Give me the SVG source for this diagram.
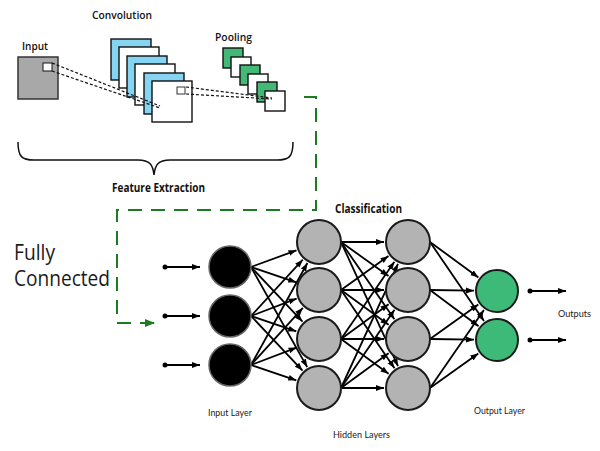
<svg xmlns="http://www.w3.org/2000/svg" width="600" height="451" viewBox="0 0 600 451">
<style>
.lbl{font-family:"Open Sans","Liberation Sans",sans-serif;font-weight:600;font-size:11px;fill:#111}
.bold{font-family:"Open Sans","Liberation Sans",sans-serif;font-weight:700;font-size:11.5px;fill:#111}
.big{font-family:"Open Sans","Liberation Sans",sans-serif;font-size:21px;fill:#1a1a1a}
.small{font-family:Lato,"Liberation Sans",sans-serif;font-size:9px;fill:#222}
.sq{stroke:#111;stroke-width:1.4}
.blue{fill:#84d4f2}
.wht{fill:#fff}
.grn{fill:#44b877}
.dash{fill:none;stroke:#111;stroke-width:1.2;stroke-dasharray:3 2}
.conn line{stroke:#000;stroke-width:1.8;marker-end:url(#ah)}
.hid{fill:#b3b3b3;stroke:#1a1a1a;stroke-width:2}
.inp{fill:#000;stroke:#666;stroke-width:1.5}
.out{fill:#3dba77;stroke:#1a1a1a;stroke-width:2}
</style>
<defs>
<marker id="ah" markerUnits="userSpaceOnUse" markerWidth="8" markerHeight="8" viewBox="0 0 8 8" refX="8" refY="4" orient="auto">
<path d="M0,1 L8,4 L0,7 z" fill="#000"/>
</marker>
<marker id="gah" markerUnits="userSpaceOnUse" markerWidth="10" markerHeight="10" viewBox="0 0 10 10" refX="10" refY="5" orient="auto">
<path d="M0,1 L10,5 L0,9 z" fill="#1e7a22"/>
</marker>
</defs>

<!-- Feature extraction -->
<g id="input-image">
<text class="lbl" x="22" y="50" textLength="26" lengthAdjust="spacingAndGlyphs">Input</text>
<rect x="18" y="57" width="40" height="42" fill="#a8a8a8" stroke="#333" stroke-width="1.5"/>
<rect x="43" y="63" width="9" height="8" fill="#fff" stroke="#111" stroke-width="1"/>
</g>
<g id="convolution">
<text class="lbl" x="92" y="19" textLength="60" lengthAdjust="spacingAndGlyphs">Convolution</text>
<rect class="sq blue" x="111" y="39" width="40" height="41"/>
<rect class="sq wht" x="119" y="47" width="40" height="41"/>
<rect class="sq blue" x="127" y="56" width="40" height="41"/>
<rect class="sq wht" x="135" y="64" width="40" height="41"/>
<rect class="sq blue" x="144" y="73" width="40" height="41"/>
<rect class="sq wht" x="152" y="81" width="40" height="41"/>
<rect x="177" y="87" width="8" height="7" fill="none" stroke="#333" stroke-width="1"/>
</g>
<g id="pooling">
<text class="lbl" x="215" y="41" textLength="37" lengthAdjust="spacingAndGlyphs">Pooling</text>
<rect class="sq grn" x="223" y="48" width="20" height="20"/>
<rect class="sq wht" x="231" y="57" width="20" height="20"/>
<rect class="sq grn" x="240" y="65" width="20" height="20"/>
<rect class="sq wht" x="248" y="74" width="20" height="20"/>
<rect class="sq grn" x="257" y="82" width="20" height="20"/>
<rect class="sq wht" x="265" y="91" width="20" height="20"/>
</g>
<g id="receptive-fields">
<line class="dash" x1="52" y1="63" x2="160" y2="106"/>
<line class="dash" x1="52" y1="71" x2="160" y2="108"/>
<line class="dash" x1="186" y1="87" x2="272" y2="98"/>
<line class="dash" x1="186" y1="94" x2="272" y2="99"/>
</g>
<g id="feature-extraction">
<path d="M18,142 C18,157 22,160 34,160 L138,160 C150,160 153,165 154,175 C155,165 158,160 170,160 L277,160 C289,160 293,157 293,142" fill="none" stroke="#111" stroke-width="1.5"/>
<text class="bold" x="112" y="192" textLength="93" lengthAdjust="spacingAndGlyphs">Feature Extraction</text>
</g>

<g id="flow">
<path d="M304,97 L316,97 L316,210 L117,210 L117,323 L155,323" fill="none" stroke="#1e7a22" stroke-width="2" stroke-dasharray="14 9" marker-end="url(#gah)"/>
</g>

<g id="fully-connected-label">
<text class="big" x="14" y="260" textLength="41" lengthAdjust="spacingAndGlyphs">Fully</text>
<text class="big" x="14" y="286" textLength="96" lengthAdjust="spacingAndGlyphs">Connected</text>
</g>
<g id="classification-label">
<text class="bold" x="335" y="213" textLength="67" lengthAdjust="spacingAndGlyphs">Classification</text>
</g>

<!-- connectors -->
<g id="connectors" class="conn">
<line x1="165" y1="267" x2="200" y2="267"/>
<line x1="165" y1="316" x2="200" y2="316"/>
<line x1="165" y1="365" x2="200" y2="365"/>
<circle cx="165" cy="267" r="2.5" fill="#000"/>
<circle cx="165" cy="316" r="2.5" fill="#000"/>
<circle cx="165" cy="365" r="2.5" fill="#000"/>

<line x1="251" y1="267" x2="296.5" y2="250.3"/>
<line x1="251" y1="267" x2="296.3" y2="282.3"/>
<line x1="251" y1="267" x2="302.5" y2="321.6"/>
<line x1="251" y1="267" x2="307.2" y2="367.1"/>
<line x1="251" y1="316" x2="302.8" y2="259.7"/>
<line x1="251" y1="316" x2="296.6" y2="298.6"/>
<line x1="251" y1="316" x2="296.3" y2="331.3"/>
<line x1="251" y1="316" x2="302.5" y2="370.6"/>
<line x1="251" y1="365" x2="307.4" y2="263.0"/>
<line x1="251" y1="365" x2="302.9" y2="307.8"/>
<line x1="251" y1="365" x2="296.6" y2="347.6"/>
<line x1="251" y1="365" x2="296.3" y2="380.3"/>

<line x1="341" y1="242" x2="384" y2="242"/>
<line x1="341" y1="242" x2="388.5" y2="276.0"/>
<line x1="341" y1="242" x2="394.4" y2="319.3"/>
<line x1="341" y1="242" x2="398.0" y2="366.2"/>
<line x1="341" y1="290" x2="388.5" y2="256.0"/>
<line x1="341" y1="290" x2="384" y2="290"/>
<line x1="341" y1="290" x2="388.6" y2="324.8"/>
<line x1="341" y1="290" x2="394.5" y2="368.2"/>
<line x1="341" y1="339" x2="394.4" y2="261.7"/>
<line x1="341" y1="339" x2="388.6" y2="304.2"/>
<line x1="341" y1="339" x2="384" y2="339"/>
<line x1="341" y1="339" x2="388.6" y2="373.8"/>
<line x1="341" y1="388" x2="398.0" y2="263.8"/>
<line x1="341" y1="388" x2="394.5" y2="309.8"/>
<line x1="341" y1="388" x2="388.6" y2="353.2"/>
<line x1="341" y1="388" x2="384" y2="388"/>

<line x1="430" y1="242" x2="478.4" y2="277.4"/>
<line x1="430" y1="242" x2="484.0" y2="321.0"/>
<line x1="430" y1="290" x2="474" y2="290.7"/>
<line x1="430" y1="290" x2="478.6" y2="326.2"/>
<line x1="430" y1="339" x2="478.3" y2="304.4"/>
<line x1="430" y1="339" x2="474" y2="339.7"/>
<line x1="430" y1="388" x2="483.9" y2="309.9"/>
<line x1="430" y1="388" x2="478.3" y2="353.4"/>

<line x1="530" y1="291" x2="566" y2="291"/>
<line x1="530" y1="340" x2="566" y2="340"/>
<circle cx="530" cy="291" r="2.5" fill="#000"/>
<circle cx="530" cy="340" r="2.5" fill="#000"/>
</g>

<!-- nodes -->
<g id="input-layer">
<circle class="inp" cx="230" cy="267" r="21"/>
<circle class="inp" cx="230" cy="316" r="21"/>
<circle class="inp" cx="230" cy="365" r="21"/>
<text class="small" x="208" y="416" textLength="44" lengthAdjust="spacingAndGlyphs">Input Layer</text>
</g>
<g id="hidden-layer-1">
<circle class="hid" cx="319" cy="242" r="22"/>
<circle class="hid" cx="319" cy="290" r="22"/>
<circle class="hid" cx="319" cy="339" r="22"/>
<circle class="hid" cx="319" cy="388" r="22"/>
</g>
<g id="hidden-layer-2">
<circle class="hid" cx="408" cy="242" r="22"/>
<circle class="hid" cx="408" cy="290" r="22"/>
<circle class="hid" cx="408" cy="339" r="22"/>
<circle class="hid" cx="408" cy="388" r="22"/>
</g>
<g id="hidden-layers-label">
<text class="small" x="333" y="438" textLength="57" lengthAdjust="spacingAndGlyphs">Hidden Layers</text>
</g>
<g id="output-layer">
<circle class="out" cx="497" cy="291" r="21"/>
<circle class="out" cx="497" cy="340" r="21"/>
<text class="small" x="474" y="414" textLength="51" lengthAdjust="spacingAndGlyphs">Output Layer</text>
</g>
<g id="outputs-label">
<text class="small" x="558" y="317" textLength="33" lengthAdjust="spacingAndGlyphs">Outputs</text>
</g>
</svg>
